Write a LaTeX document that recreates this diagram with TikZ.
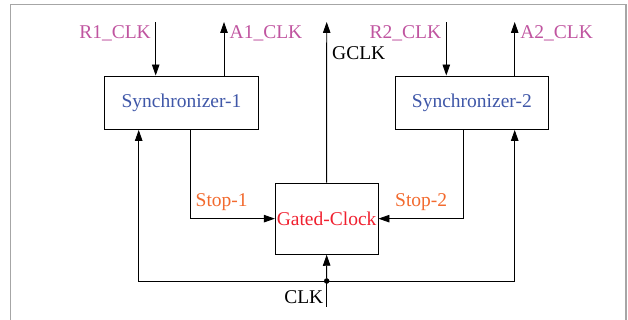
\documentclass[tikz,border=0pt]{standalone}
\usepackage{fontspec}
\setmainfont{Liberation Serif}
\usepackage{tikz}
\usetikzlibrary{arrows.meta,positioning}
\definecolor{sigpink}{RGB}{192,85,160}
\definecolor{blockblue}{RGB}{63,87,168}
\definecolor{stoporange}{RGB}{242,106,46}
\definecolor{gatered}{RGB}{240,32,47}
\tikzset{
  block/.style={draw,line width=0.9pt,inner sep=0pt},
  wire/.style={line width=0.9pt},
  sig/.style={text=sigpink,inner sep=0pt},
}
\begin{document}
\begin{tikzpicture}[x=1pt,y=1pt,>={Triangle[length=11pt,width=7.5pt]},
  font=\fontsize{19.5}{21}\selectfont]
  \useasboundingbox (0,0) rectangle (628,320);
  % 外框
  \draw[line width=1.4pt,black!35] (10.5,-10) rectangle (626,315.5);

  % 方框
  \node[block,minimum width=154pt,minimum height=53.5pt,text=blockblue]
       (sync1) at (181.5,217.25) {Synchronizer-1};
  \node[block,minimum width=153.7pt,minimum height=53.5pt,text=blockblue]
       (sync2) at (471.85,217.25) {Synchronizer-2};
  \node[block,minimum width=102.7pt,minimum height=71.3pt,text=gatered]
       (gate) at (326.65,101.35) {Gated-Clock};

  % 端点
  \coordinate (r1) at (155.7,297.5);
  \coordinate (a1) at (224,298);
  \coordinate (r2) at (446.3,297.5);
  \coordinate (a2) at (514.7,298);
  \coordinate (gclk) at (326.7,298);
  \coordinate (clkin) at (326.7,13.3);
  \coordinate (clk) at (326.7,39);
  \coordinate (s1) at (190,101.35);
  \coordinate (s2) at (463,101.35);

  % 输入输出
  \draw[wire,->] (r1) -- (r1 |- sync1.north);
  \draw[wire,->] (a1 |- sync1.north) -- (a1);
  \draw[wire,->] (r2) -- (r2 |- sync2.north);
  \draw[wire,->] (a2 |- sync2.north) -- (a2);
  \draw[wire,->] (gate.north) -- (gclk);

  % 停止信号
  \draw[wire,->] (s1 |- sync1.south) -- (s1) -- (gate.west);
  \draw[wire,->] (s2 |- sync2.south) -- (s2) -- (gate.east);

  % 时钟
  \draw[wire] (clkin) -- (clk);
  \draw[wire,->] (clk) -- (gate.south);
  \draw[wire,->] (clk) -| (138.7,0 |- sync1.south);
  \draw[wire,->] (clk) -| (a2 |- sync2.south);
  \filldraw (clk) circle (2.5);

  % 标签
  \node[sig,anchor=east] (r1lab) at (151,287) {R1\_CLK};
  \node[sig,anchor=west] (a1lab) at (229.5,287) {A1\_CLK};
  \node[sig,anchor=east] (r2lab) at (441.3,287) {R2\_CLK};
  \node[sig,anchor=west] (a2lab) at (520.2,287) {A2\_CLK};
  \node[anchor=west,inner sep=0pt] (gclklab) at (332,267) {GCLK};
  \node[anchor=east,inner sep=0pt] (clklab) at (323.5,23) {CLK};
  \node[anchor=west,inner sep=0pt,text=stoporange] (stop1) at (195.5,118) {Stop-1};
  \node[anchor=west,inner sep=0pt,text=stoporange] (stop2) at (395,118) {Stop-2};
\end{tikzpicture}
\end{document}
